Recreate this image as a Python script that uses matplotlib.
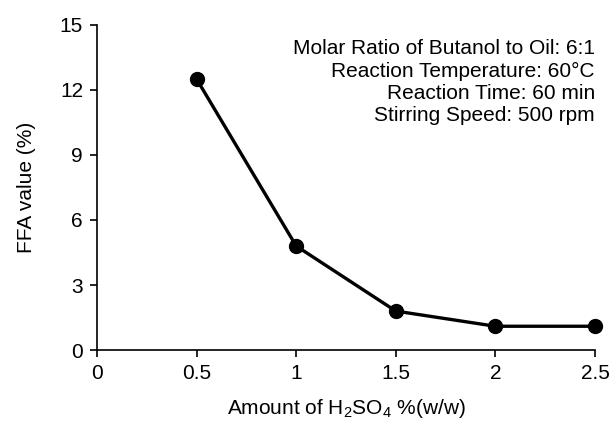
import matplotlib.pyplot as plt

plt.rcParams['font.family'] = ['Liberation Sans', 'DejaVu Sans']
plt.rcParams['mathtext.fontset'] = 'custom'
plt.rcParams['mathtext.rm'] = 'Liberation Sans'
plt.rcParams['mathtext.it'] = 'Liberation Sans:italic'
plt.rcParams['mathtext.bf'] = 'Liberation Sans:bold'

acid = [0.5, 1.0, 1.5, 2.0, 2.5]
ffa = [12.5, 4.8, 1.8, 1.1, 1.1]
xticks = [0, 0.5, 1, 1.5, 2, 2.5]
xticklabels = ["0", "0.5", "1", "1.5", "2", "2.5"]
yticks = [0, 3, 6, 9, 12, 15]

fig = plt.figure(figsize=(6.14, 4.28), dpi=100)
ax = fig.add_axes([0.158, 0.182, 0.811, 0.76])

ax.plot(acid, ffa, color="black", lw=2.4, marker="o", ms=10, clip_on=False, zorder=3)

ax.set_xlim(0, 2.5)
ax.set_ylim(0, 15)
ax.set_xticks(xticks)
ax.set_xticklabels(xticklabels)
ax.set_yticks(yticks)
ax.spines["top"].set_visible(False)
ax.spines["right"].set_visible(False)
ax.spines["left"].set_linewidth(1.2)
ax.spines["bottom"].set_linewidth(1.2)
ax.tick_params(direction="out", length=5, width=1.2, labelsize=15, pad=5)

ax.set_xlabel("Amount of H$\\mathrm{_2}$SO$\\mathrm{_4}$ %(w/w)", fontsize=15, labelpad=10)
ax.set_ylabel("FFA value (%)", fontsize=15, labelpad=17)

notes = ("Molar Ratio of Butanol to Oil: 6:1\n"
         "Reaction Temperature: 60°C\n"
         "Reaction Time: 60 min\n"
         "Stirring Speed: 500 rpm")
ax.text(1.0, 0.955, notes, transform=ax.transAxes, ha="right", va="top",
        fontsize=15, linespacing=1.22)

fig.savefig("out.png", dpi=100)
